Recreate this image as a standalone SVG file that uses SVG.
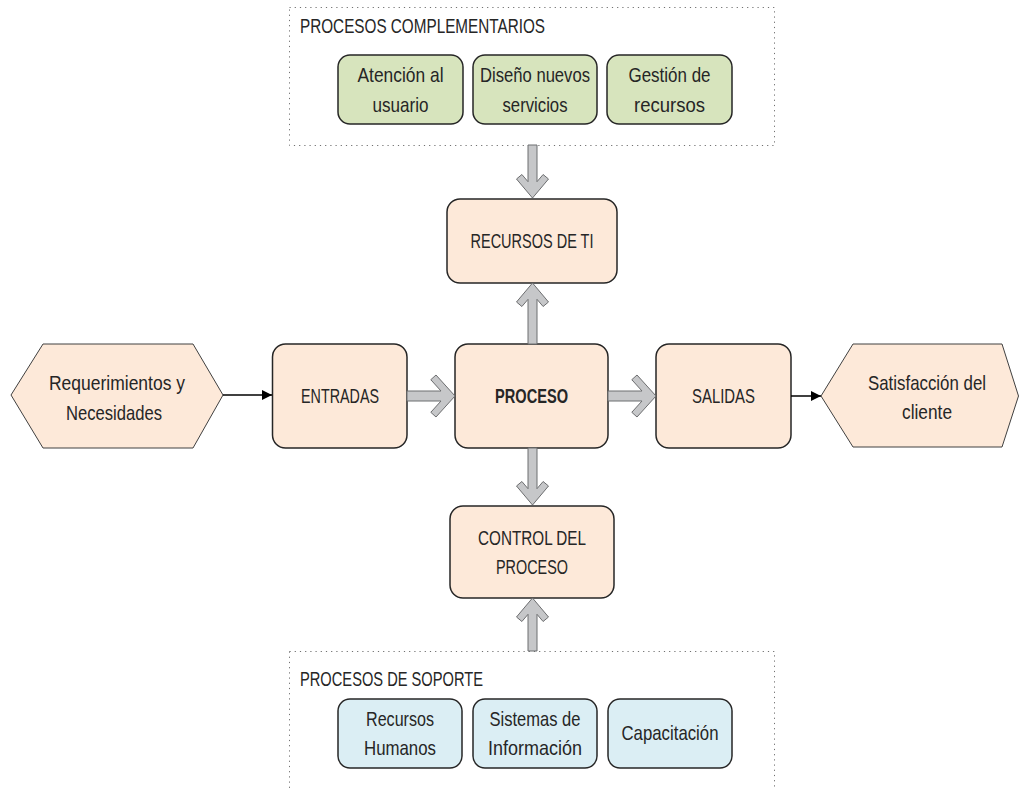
<svg xmlns="http://www.w3.org/2000/svg" width="1019" height="788" viewBox="0 0 1019 788">
  <style>
    text { font-family: "Liberation Sans", Arial, sans-serif; font-size: 21px; fill: #262626; text-anchor: middle; }
    .title { text-anchor: start; }
    .bold { font-weight: bold; }
    .group { fill: none; stroke: #707070; stroke-width: 1; stroke-dasharray: 1.2 4; }
    .core { fill: #fde9d9; stroke: #262626; stroke-width: 1.5; }
    .comp { fill: #d7e4bd; stroke: #262626; stroke-width: 1.5; }
    .supp { fill: #dbeef4; stroke: #262626; stroke-width: 1.5; }
    .hex { fill: #fde9d9; stroke: #404040; stroke-width: 1; }
    .block { fill: #c6c7c9; stroke: #6d6e70; stroke-width: 1; stroke-linejoin: miter; }
    .thin { stroke: #000; stroke-width: 1.5; fill: none; marker-end: url(#tri); }
  </style>
  <defs>
    <marker id="tri" markerUnits="userSpaceOnUse" markerWidth="11" markerHeight="10" refX="10" refY="5" orient="auto">
      <path d="M0,0 L10,5 L0,10 Z" fill="#000"/>
    </marker>
  </defs>

  <rect width="1019" height="788" fill="#ffffff"/>

  <!-- complementary processes group -->
  <g id="complementarios">
    <rect class="group" x="289.5" y="7.5" width="485" height="138"/>
    <text class="title" x="300" y="33" textLength="245" lengthAdjust="spacingAndGlyphs">PROCESOS COMPLEMENTARIOS</text>
  </g>
  <g id="atencion">
    <rect class="comp" x="338" y="55" width="125" height="69" rx="12"/>
    <text x="400.5" y="82" textLength="86" lengthAdjust="spacingAndGlyphs">Atención al</text>
    <text x="400.5" y="112" textLength="56" lengthAdjust="spacingAndGlyphs">usuario</text>
  </g>
  <g id="diseno">
    <rect class="comp" x="473" y="55" width="124" height="69" rx="12"/>
    <text x="535" y="82" textLength="110" lengthAdjust="spacingAndGlyphs">Diseño nuevos</text>
    <text x="535" y="112" textLength="65" lengthAdjust="spacingAndGlyphs">servicios</text>
  </g>
  <g id="gestion">
    <rect class="comp" x="607" y="55" width="125" height="69" rx="12"/>
    <text x="669.5" y="82" textLength="82" lengthAdjust="spacingAndGlyphs">Gestión de</text>
    <text x="669.5" y="112" textLength="71" lengthAdjust="spacingAndGlyphs">recursos</text>
  </g>

  <!-- core chain -->
  <g id="recursos-ti">
    <rect class="core" x="447" y="199" width="170" height="84" rx="13"/>
    <text x="532" y="248" textLength="123" lengthAdjust="spacingAndGlyphs">RECURSOS DE TI</text>
  </g>
  <g id="requerimientos">
    <polygon class="hex" points="11,395 43,344 193,344 223,395 193,448 43,448"/>
    <text x="117" y="390" textLength="136" lengthAdjust="spacingAndGlyphs">Requerimientos y</text>
    <text x="114" y="420" textLength="96" lengthAdjust="spacingAndGlyphs">Necesidades</text>
  </g>
  <g id="entradas">
    <rect class="core" x="272.5" y="344" width="134.5" height="104" rx="13"/>
    <text x="340" y="403" textLength="78" lengthAdjust="spacingAndGlyphs">ENTRADAS</text>
  </g>
  <g id="proceso">
    <rect class="core" x="455" y="344" width="153" height="104" rx="13"/>
    <text class="bold" x="531.5" y="403" textLength="73" lengthAdjust="spacingAndGlyphs">PROCESO</text>
  </g>
  <g id="salidas">
    <rect class="core" x="656" y="344" width="135" height="104" rx="13"/>
    <text x="723.5" y="403" textLength="63" lengthAdjust="spacingAndGlyphs">SALIDAS</text>
  </g>
  <g id="satisfaccion">
    <polygon class="hex" points="821,396 853,344 1002,344 1018.5,396 1002,447 853,447"/>
    <text x="927" y="390" textLength="118" lengthAdjust="spacingAndGlyphs">Satisfacción del</text>
    <text x="927" y="419" textLength="50" lengthAdjust="spacingAndGlyphs">cliente</text>
  </g>
  <g id="control">
    <rect class="core" x="450" y="506" width="164" height="92" rx="13"/>
    <text x="532" y="545" textLength="108" lengthAdjust="spacingAndGlyphs">CONTROL DEL</text>
    <text x="532" y="574" textLength="72" lengthAdjust="spacingAndGlyphs">PROCESO</text>
  </g>

  <!-- support processes group -->
  <g id="soporte">
    <rect class="group" x="289.5" y="651.5" width="485" height="150"/>
    <text class="title" x="300" y="686" textLength="183" lengthAdjust="spacingAndGlyphs">PROCESOS DE SOPORTE</text>
  </g>
  <g id="rrhh">
    <rect class="supp" x="338" y="699" width="124" height="69" rx="12"/>
    <text x="400" y="726" textLength="68" lengthAdjust="spacingAndGlyphs">Recursos</text>
    <text x="400" y="755" textLength="72" lengthAdjust="spacingAndGlyphs">Humanos</text>
  </g>
  <g id="sistemas">
    <rect class="supp" x="473" y="699" width="124" height="69" rx="12"/>
    <text x="535" y="726" textLength="91" lengthAdjust="spacingAndGlyphs">Sistemas de</text>
    <text x="535" y="755" textLength="94" lengthAdjust="spacingAndGlyphs">Información</text>
  </g>
  <g id="capacitacion">
    <rect class="supp" x="608" y="699" width="124" height="69" rx="12"/>
    <text x="670" y="740" textLength="97" lengthAdjust="spacingAndGlyphs">Capacitación</text>
  </g>

  <!-- connectors -->
  <g id="connectors">
    <!-- thin arrows -->
    <line class="thin" x1="223" y1="395" x2="272" y2="395"/>
    <line class="thin" x1="791" y1="396" x2="821" y2="396"/>
    <!-- block arrows, vertical -->
    <polygon class="block" points="528,145 528,181.7 521.9,174.5 516.5,179 532.5,198 548.5,179 543.1,174.5 537,181.7 537,145"/>
    <polygon class="block" points="528,344 528,299.3 521.9,306.5 516.5,302 532.5,283 548.5,302 543.1,306.5 537,299.3 537,344"/>
    <polygon class="block" points="528,448 528,488.7 521.9,481.5 516.5,486 532.5,505 548.5,486 543.1,481.5 537,488.7 537,448"/>
    <polygon class="block" points="528,651 528,614.3 521.9,621.5 516.5,617 532.5,598 548.5,617 543.1,621.5 537,614.3 537,651"/>
    <!-- block arrows, horizontal -->
    <polygon class="block" points="407,391 441,391 430.8,379.7 436,375 455,396 436,417 430.8,412.3 441,401 407,401"/>
    <polygon class="block" points="608,391 642,391 631.8,379.7 637,375 656,396 637,417 631.8,412.3 642,401 608,401"/>
  </g>
</svg>
